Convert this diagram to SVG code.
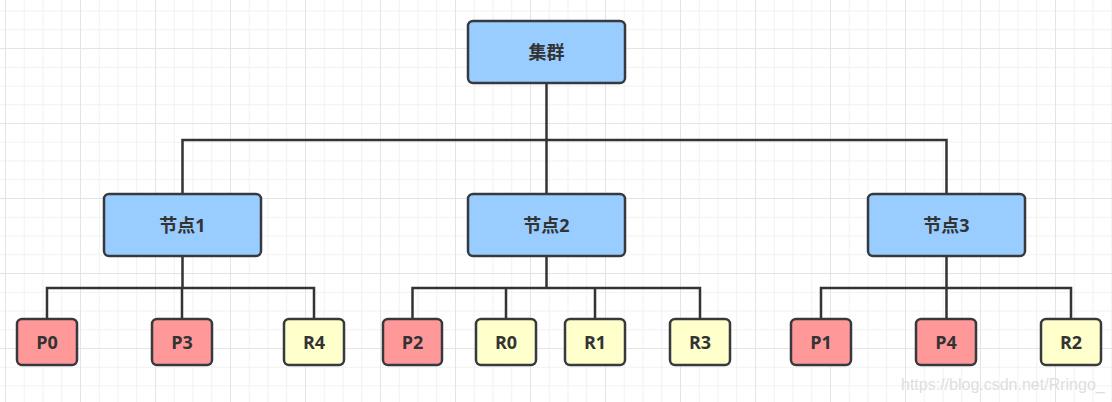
<svg xmlns="http://www.w3.org/2000/svg" width="1112" height="402" viewBox="0 0 1112 402">
<style>
.box{stroke:#36393d;stroke-width:2.5}
.blue{fill:#99ccff}
.red{fill:#ff9999}
.yel{fill:#ffffcc}
.lbl{font-family:"Open Sans","Noto Sans CJK SC",sans-serif;font-weight:bold;font-size:18px;fill:#333333;text-anchor:middle;dominant-baseline:central}
.conn path{fill:none;stroke:#333333;stroke-width:2.5}
.wm{font-family:"Liberation Sans",Arial,sans-serif;font-size:16px;fill:#dedede}
</style>
<defs>
<pattern id="minor" x="5" y="10.5" width="18.75" height="18.75" patternUnits="userSpaceOnUse">
<path d="M0.5 0V18.75M0 0.5H18.75" fill="none" stroke="#f1f1f1" stroke-width="1"/>
</pattern>
<pattern id="major" x="5" y="48" width="75" height="75" patternUnits="userSpaceOnUse">
<path d="M0.5 0V75M0 0.5H75" fill="none" stroke="#e4e4e4" stroke-width="1"/>
</pattern>
</defs>
<rect width="1112" height="402" fill="#ffffff"/>
<rect width="1112" height="402" fill="url(#minor)"/>
<rect width="1112" height="402" fill="url(#major)"/>

<g id="connectors" class="conn">
<path d="M546.5 83V194"/>
<path d="M182.5 194V140H946.5V194"/>
<path d="M182.5 256V288M47 319V288H314V319M182 288V319"/>
<path d="M546.5 256V288M412.5 319V288H700V319M506 288V319M595 288V319"/>
<path d="M946.5 256V319M821 319V288H1071V319"/>
</g>

<g id="cluster"><rect class="box blue" x="468" y="21" width="157" height="62" rx="5"/><text class="lbl" x="546.5" y="52">集群</text></g>
<g id="node1"><rect class="box blue" x="104" y="194" width="157" height="62" rx="5"/><text class="lbl" x="182.5" y="225">节点1</text></g>
<g id="node2"><rect class="box blue" x="468" y="194" width="157" height="62" rx="5"/><text class="lbl" x="546.5" y="225">节点2</text></g>
<g id="node3"><rect class="box blue" x="868" y="194" width="157" height="62" rx="5"/><text class="lbl" x="946.5" y="225">节点3</text></g>

<g id="p0"><rect class="box red" x="17" y="319" width="60" height="46" rx="5"/><text class="lbl" x="47" y="342">P0</text></g>
<g id="p3"><rect class="box red" x="152" y="319" width="60" height="46" rx="5"/><text class="lbl" x="182" y="342">P3</text></g>
<g id="r4"><rect class="box yel" x="284" y="319" width="60" height="46" rx="5"/><text class="lbl" x="314" y="342">R4</text></g>

<g id="p2"><rect class="box red" x="383" y="319" width="59" height="46" rx="5"/><text class="lbl" x="412.5" y="342">P2</text></g>
<g id="r0"><rect class="box yel" x="476" y="319" width="60" height="46" rx="5"/><text class="lbl" x="506" y="342">R0</text></g>
<g id="r1"><rect class="box yel" x="565" y="319" width="60" height="46" rx="5"/><text class="lbl" x="595" y="342">R1</text></g>
<g id="r3"><rect class="box yel" x="670" y="319" width="60" height="46" rx="5"/><text class="lbl" x="700" y="342">R3</text></g>

<g id="p1"><rect class="box red" x="791" y="319" width="60" height="46" rx="5"/><text class="lbl" x="821" y="342">P1</text></g>
<g id="p4"><rect class="box red" x="916" y="319" width="60" height="46" rx="5"/><text class="lbl" x="946" y="342">P4</text></g>
<g id="r2"><rect class="box yel" x="1041" y="319" width="60" height="46" rx="5"/><text class="lbl" x="1071" y="342">R2</text></g>

<text class="wm" x="901" y="390">https://blog.csdn.net/Rringo_</text>
</svg>
